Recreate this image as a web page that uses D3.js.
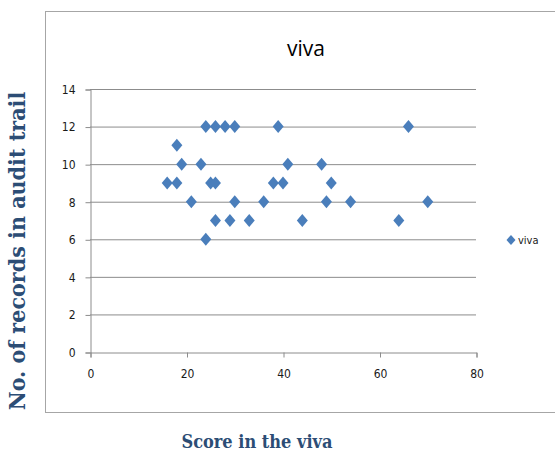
<!DOCTYPE html>
<html>
<head>
<meta charset="utf-8">
<script src="https://cdn.jsdelivr.net/npm/d3@7"></script>
<style>
  body { margin: 0; background: #fff; }
  svg { display: block; }
</style>
</head>
<body>
<svg id="chart" width="555" height="456"></svg>
<script>
// scores in the viva and number of records in the audit trail
const scores  = [24, 26, 28, 30, 39, 66, 18, 19, 23, 41, 48, 16, 18, 25, 26, 38, 40, 50, 21, 30, 36, 49, 54, 70, 26, 29, 33, 44, 64, 24];
const records = [12, 12, 12, 12, 12, 12, 11, 10, 10, 10, 10,  9,  9,  9,  9,  9,  9,  9,  8,  8,  8,  8,  8,  8,  7,  7,  7,  7,  7,  6];
const xTicks = [0, 20, 40, 60, 80];
const yTicks = [0, 2, 4, 6, 8, 10, 12, 14];
const seriesName = "viva";

const svg = d3.select("#chart");
const blue = "#4a7ebb";
const tickFont = "'DejaVu Sans Condensed', 'Liberation Sans Narrow', Arial, sans-serif";

// excel style marker, a bit wider than d3's own diamond
const diamondPath = (w, h) => `M0,${-h}L${w},0L0,${h}L${-w},0Z`;

// outer chart frame (runs off the right edge like the original)
svg.append("rect")
    .attr("x", 45.5).attr("y", 11.5)
    .attr("width", 520).attr("height", 401)
    .attr("fill", "none")
    .attr("stroke", "#a6a6a6");

const xScale = d3.scaleLinear().domain([0, 80]).range([90, 476]);
const yScale = d3.scaleLinear().domain([0, 14]).range([352, 89]);

// gridlines
svg.append("g")
    .selectAll("line")
    .data(yTicks.slice(1))
    .join("line")
    .attr("x1", xScale(0)).attr("x2", xScale(80))
    .attr("y1", d => yScale(d) + 0.5).attr("y2", d => yScale(d) + 0.5)
    .attr("stroke", "#8c8c8c");

const xAxis = svg.append("g")
    .attr("transform", `translate(0.5,${yScale(0) + 0.5})`)
    .call(d3.axisBottom(xScale).tickValues(xTicks).tickSize(5).tickPadding(12));
const yAxis = svg.append("g")
    .attr("transform", `translate(${xScale(0) + 0.5},0.5)`)
    .call(d3.axisLeft(yScale).tickValues(yTicks).tickSize(5).tickPadding(10));

[xAxis, yAxis].forEach(ax => {
    ax.select(".domain").attr("stroke", "#8c8c8c");
    ax.selectAll(".tick line").attr("stroke", "#8c8c8c");
    ax.selectAll(".tick text")
        .attr("fill", "#1a1a1a")
        .style("font-family", tickFont)
        .style("font-size", "12px");
});

// points
svg.append("g")
    .selectAll("path")
    .data(scores.map((s, i) => ({ x: s, y: records[i] })))
    .join("path")
    .attr("d", diamondPath(5.5, 6.5))
    .attr("transform", d => `translate(${xScale(d.x)},${yScale(d.y)})`)
    .attr("fill", blue);

// title
svg.append("text")
    .attr("x", 306).attr("y", 56)
    .attr("text-anchor", "middle")
    .style("font-family", "'Open Sans', 'Noto Sans', sans-serif")
    .style("font-size", "21px")
    .attr("fill", "#000")
    .text(seriesName);

// axis titles
const titleFont = "'DejaVu Serif Condensed', 'Liberation Serif', serif";
svg.append("text")
    .attr("x", 257).attr("y", 448)
    .attr("text-anchor", "middle")
    .style("font-family", titleFont)
    .style("font-weight", "bold")
    .style("font-size", "18px")
    .attr("fill", "#2c4d75")
    .text("Score in the viva");

svg.append("text")
    .attr("transform", "translate(25,251) rotate(-90)")
    .attr("text-anchor", "middle")
    .style("font-family", titleFont)
    .style("font-weight", "bold")
    .style("font-size", "23px")
    .attr("fill", "#2c4d75")
    .text("No. of records in audit trail");

// legend
const legend = svg.append("g").attr("transform", "translate(511,240)");
legend.append("path")
    .attr("d", diamondPath(4.5, 5))
    .attr("fill", blue);
legend.append("text")
    .attr("x", 7).attr("y", 4)
    .style("font-family", tickFont)
    .style("font-size", "11px")
    .attr("fill", "#1a1a1a")
    .text(seriesName);
</script>
</body>
</html>
